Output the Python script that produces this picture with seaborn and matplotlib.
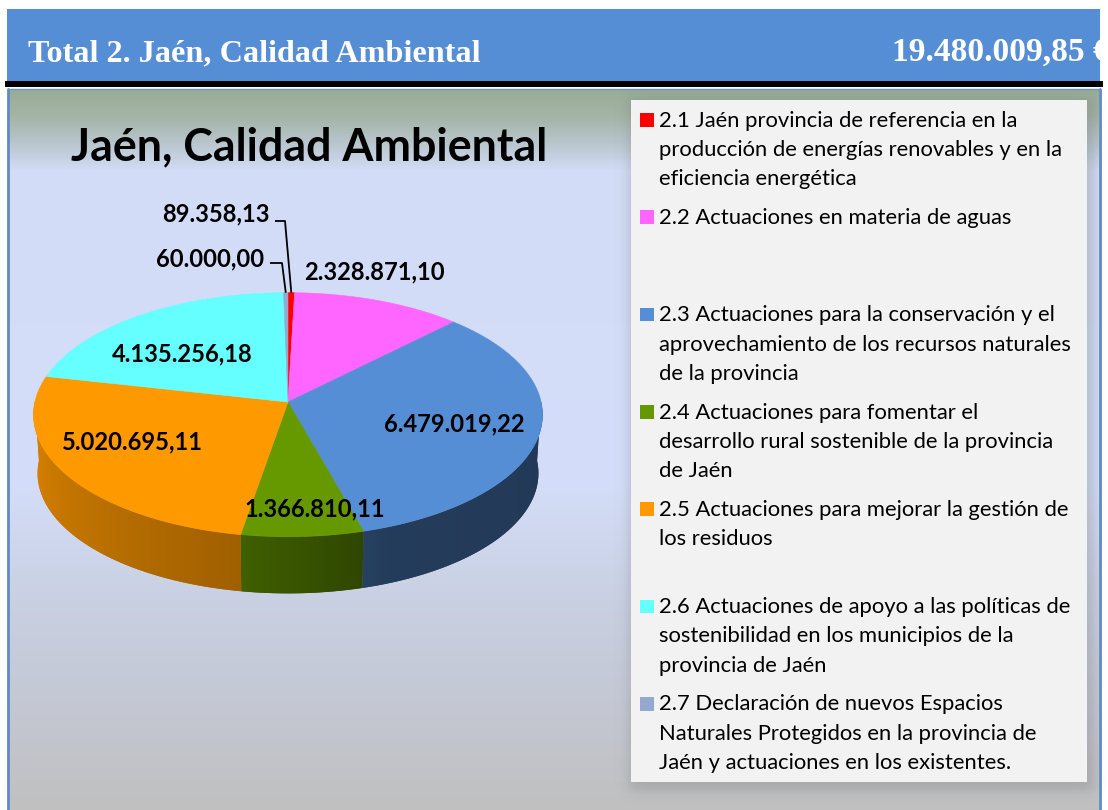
import numpy as np
import matplotlib
matplotlib.use("Agg")
import matplotlib.pyplot as plt
import seaborn as sns
from matplotlib.patches import Polygon, Rectangle
from matplotlib.colors import to_rgb

# ---------------- data ----------------
codes = ["2.1", "2.2", "2.3", "2.4", "2.5", "2.6", "2.7"]
legend_texts = [
    ["2.1 Jaén provincia de referencia en la", "producción de energías renovables y en la", "eficiencia energética"],
    ["2.2 Actuaciones en materia de aguas"],
    ["2.3 Actuaciones para la conservación y el", "aprovechamiento de los recursos naturales", "de la provincia"],
    ["2.4 Actuaciones para fomentar el", "desarrollo rural sostenible de la provincia", "de Jaén"],
    ["2.5 Actuaciones para mejorar la gestión de", "los residuos"],
    ["2.6 Actuaciones de apoyo a las políticas de", "sostenibilidad en los municipios de la", "provincia de Jaén"],
    ["2.7 Declaración de nuevos Espacios", "Naturales Protegidos en la provincia de", "Jaén y actuaciones en los existentes."],
]
values = [89358.13, 2328871.10, 6479019.22, 1366810.11, 5020695.11, 4135256.18, 60000.00]
slice_colors = ["#ff0000", "#ff66ff", "#558ed5", "#669900", "#ff9900", "#66ffff", "#95a9d0"]
header_title = "Total 2. Jaén, Calidad Ambiental"
chart_title = "Jaén, Calidad Ambiental"

# ---------------- style ----------------
sns.set_theme(style="white")
plt.rcParams["font.family"] = ["Lato", "DejaVu Sans"]
palette = sns.color_palette(slice_colors)


def es_fmt(v):
    return f"{v:,.2f}".replace(",", "X").replace(".", ",").replace("X", ".")


fig = plt.figure(figsize=(11.08, 8.10), dpi=100)
fig.patch.set_facecolor("white")
ax = fig.add_axes([0, 0, 1, 1])
ax.set_xlim(0, 1108)
ax.set_ylim(810, 0)
ax.axis("off")
renderer = fig.canvas.get_renderer()


def fit(t, target_w):
    bb = t.get_window_extent(renderer=renderer)
    t.set_fontsize(t.get_fontsize() * target_w / bb.width)
    return t.get_fontsize()


# ---------------- header ----------------
hdr = Rectangle((7, 9), 1093, 72, fc="#558ed5", ec="none", zorder=1)
ax.add_patch(hdr)
ax.add_patch(Rectangle((5, 80.5), 1098, 6.5, fc="black", ec="none", zorder=2))
t1 = ax.text(28, 61, header_title, color="white", fontsize=22, fontweight="bold",
             family="Liberation Serif", va="baseline", ha="left", zorder=3)
fs = fit(t1, 453)
t2 = ax.text(892, 61, f"{es_fmt(sum(values))} €", color="white", fontsize=fs,
             fontweight="bold", family="Liberation Serif", va="baseline", ha="left", zorder=3)
fit(t2, 218)
t2.set_clip_path(hdr)

# ---------------- chart background ----------------
ys = np.arange(89, 810) + 0.5
stops_y = [89, 118, 142, 170, 480, 600, 700, 810]
stops_c = [(151, 172, 151), (165, 181, 168), (183, 197, 203), (210, 220, 246),
           (212, 222, 250), (201, 208, 226), (196, 200, 212), (192, 192, 192)]
grad = np.stack([np.interp(ys, stops_y, [c[k] for c in stops_c]) for k in range(3)], axis=-1) / 255
ax.imshow(np.repeat(grad[:, None, :], 2, axis=1), extent=(9, 1099, 810, 89),
          aspect="auto", interpolation="bilinear", zorder=0)
ax.plot([8, 8], [89, 810], color="#5f8ac6", lw=2, zorder=1)
ax.plot([1100, 1100], [89, 810], color="#5f8ac6", lw=2, zorder=1)
ax.plot([8, 1100], [88.5, 88.5], color="#6f96c8", lw=1, zorder=1)

# ---------------- legend box with soft shadow ----------------
LX0, LX1, LY0, LY1 = 631, 1087, 100, 782
sx = np.arange(LX0 - 25, LX1 + 30) + 0.5
sy = np.arange(LY0 - 25, LY1 + 30) + 0.5


def soft(t, a, b, w):
    return 1 / (1 + np.exp(-(t - a) / w)) * 1 / (1 + np.exp((t - b) / w))


alpha = 0.30 * np.outer(soft(sy, LY0 - 2, LY1 + 9, 3.5), soft(sx, LX0 - 2, LX1 + 7, 3.5))
rgba = np.zeros(alpha.shape + (4,))
rgba[..., :3] = 0.45
rgba[..., 3] = alpha
ax.imshow(rgba, extent=(sx[0] - 0.5, sx[-1] + 0.5, sy[-1] + 0.5, sy[0] - 0.5),
          aspect="auto", interpolation="bilinear", zorder=1)
ax.add_patch(Rectangle((LX0, LY0), LX1 - LX0, LY1 - LY0, fc="#f2f2f2", ec="none", zorder=2))

slot_h, line_h = 97.3, 29.3
leg_items = []
leg_fs = None
for i, lines in enumerate(legend_texts):
    yb = 126.7 + i * slot_h
    ax.add_patch(Rectangle((640, yb - 13.7), 13.7, 13.7, fc=palette[i], ec="none", zorder=3))
    for j, line in enumerate(lines):
        tt = ax.text(659, yb + j * line_h, line, fontsize=15, color="black",
                     va="baseline", ha="left", zorder=3)
        leg_items.append(tt)
        if i == 5 and j == 0:
            leg_fs = fit(tt, 414)
for t in leg_items:
    t.set_fontsize(leg_fs)

# ---------------- chart title ----------------
tt = ax.text(309.5, 160, chart_title, fontsize=32, fontweight="bold", color="black",
             va="baseline", ha="center", zorder=3)
fit(tt, 477)

# ---------------- 3D pie ----------------
CX, CY = 288.0, 402.0              # projected centre of the pie
RA, RB, PC = 253.1, 120.7, 0.1041  # radii and perspective factor
DEPTH, SHRINK = 58.8, 0.984


def proj(angle_deg, r=1.0):
    phi = np.deg2rad(angle_deg)
    u = r * np.sin(phi)
    v = -r * np.cos(phi)
    s = 1.0 / (1.0 - PC * v)
    return CX + RA * u * s, CY + RB * v * s


def proj_bottom(angle_deg):
    x, y = proj(angle_deg)
    return CX + (x - CX) * SHRINK, CY + (y - CY) * SHRINK + DEPTH


fracs = np.array(values) / sum(values)
bounds = np.concatenate([[0.0], np.cumsum(fracs)]) * 360.0

# lighting of the side wall as a function of angle on the rim
shade_ang = [90, 160, 190, 270]
shade_val = [0.40, 0.43, 0.63, 0.88]
front = np.linspace(97, 263, 800)
front_x, _ = proj(front)          # decreasing with angle

for i in range(len(values)):
    a0, a1 = max(bounds[i], 90.0), min(bounds[i + 1], 270.0)
    if a1 <= a0:
        continue
    ang = np.linspace(a0, a1, int(np.ceil((a1 - a0) * 2)) + 2)
    xt, yt = proj(ang)
    xb, yb = proj_bottom(ang[::-1])
    poly_xy = np.column_stack([np.r_[xt, xb], np.r_[yt, yb]])
    base = np.array(to_rgb(palette[i]))
    mean_col = base * np.interp(0.5 * (a0 + a1), shade_ang, shade_val)
    wall = Polygon(poly_xy, closed=True, fc=mean_col, ec="none", zorder=4)
    ax.add_patch(wall)
    x0, x1 = poly_xy[:, 0].min() - 1, poly_xy[:, 0].max() + 1
    y0, y1 = poly_xy[:, 1].min() - 1, poly_xy[:, 1].max() + 1
    cols = np.arange(np.floor(x0), np.ceil(x1)) + 0.5
    col_ang = np.interp(cols, front_x[::-1], front[::-1])
    sh = np.interp(col_ang, shade_ang, shade_val)
    img = np.clip(base[None, :] * sh[:, None], 0, 1)[None, :, :].repeat(2, axis=0)
    im = ax.imshow(img, extent=(np.floor(x0), np.ceil(x1), y1, y0), aspect="auto",
                   interpolation="bilinear", zorder=4.1)
    im.set_clip_path(wall)

for i in range(len(values)):
    a0, a1 = bounds[i], bounds[i + 1]
    ang = np.linspace(a0, a1, max(int((a1 - a0) * 2) + 2, 3))
    xs, yv = proj(ang)
    poly = np.column_stack([np.r_[CX, xs], np.r_[CY, yv]])
    ax.add_patch(Polygon(poly, closed=True, fc=palette[i], ec=palette[i], lw=0.4, zorder=5))

# ---------------- data labels ----------------
label_pos = [(215.6, 214), (374, 271.5), (454.5, 424), (315, 508.5),
             (132.5, 442), (182.5, 354), (209.6, 259)]
lbls = []
for i, v in enumerate(values):
    x, y = label_pos[i]
    lbls.append(ax.text(x, y, es_fmt(v), fontsize=16, fontweight="bold", color="black",
                        ha="center", va="center", zorder=7))
lab_fs = fit(lbls[2], 141)
for t in lbls:
    t.set_fontsize(lab_fs)

# leader lines for the two thin slices
leaders = {0: [(275, 221), (285, 221)], 6: [(270, 263), (282, 263)]}
for i, pts in leaders.items():
    ex, ey = proj(0.5 * (bounds[i] + bounds[i + 1]))
    xs = [p[0] for p in pts] + [ex]
    yv = [p[1] for p in pts] + [ey]
    ax.plot(xs, yv, color="black", lw=1.3, zorder=6, solid_capstyle="butt")

ax.set_xlim(0, 1108)
ax.set_ylim(810, 0)
fig.savefig("out.png", dpi=100, facecolor="white")
